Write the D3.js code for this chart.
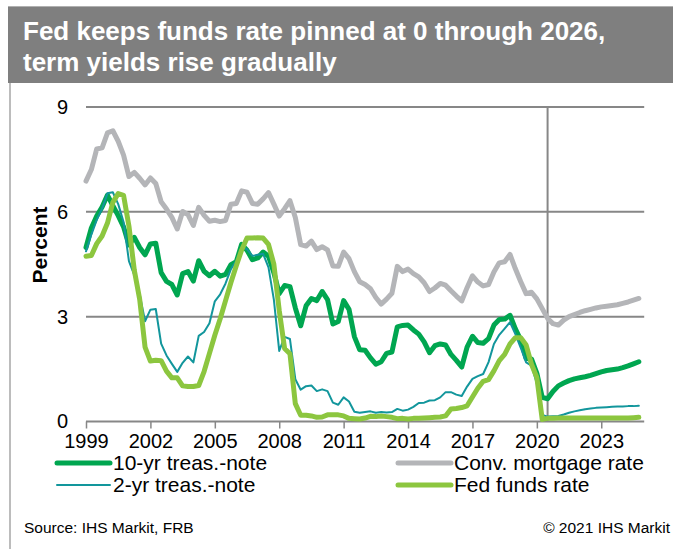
<!DOCTYPE html>
<html><head><meta charset="utf-8">
<script src="https://cdn.jsdelivr.net/npm/d3@7/dist/d3.min.js"></script>
<style>
body{margin:0;background:#fff}
svg{display:block}
text{font-family:Arial,"Liberation Sans",Helvetica,sans-serif}
</style>
</head><body>
<svg id="chart" width="673" height="549"></svg>
<script>
// Quarterly data, 1999Q1 .. 2024Q4
const startYear = 1999;
const tenYear = [
4.98,5.54,5.88,6.14, 6.48,6.18,5.89,5.57, 5.05,5.27,4.98,4.77, 5.08,5.10,4.26,4.01,
3.92,3.62,4.23,4.29, 4.02,4.60,4.30,4.17, 4.30,4.16,4.21,4.49, 4.57,5.07,4.90,4.63,
4.68,4.85,4.73,4.26, 3.66,3.89,3.86,3.25, 2.74,3.31,3.52,3.46, 3.72,3.49,2.79,2.86,
3.46,3.21,2.43,2.05, 2.04,1.82,1.64,1.71, 1.95,1.99,2.71,2.75, 2.76,2.62,2.50,2.28,
1.97,2.17,2.22,2.19, 1.92,1.75,1.56,2.13, 2.44,2.26,2.24,2.37, 2.76,2.92,2.93,3.04,
2.65,2.33,1.80,1.79, 1.38,0.69,0.65,0.86, 1.02,1.10,1.17,1.22, 1.25,1.28,1.32,1.37,
1.42,1.46,1.48,1.50, 1.54,1.59,1.65,1.71];
const mortgage = [
6.88,7.21,7.80,7.83, 8.26,8.32,8.02,7.62, 7.01,7.13,6.96,6.77, 6.97,6.81,6.29,6.08,
5.84,5.51,6.01,5.92, 5.61,6.13,5.90,5.73, 5.76,5.72,5.75,6.22, 6.24,6.60,6.56,6.24,
6.22,6.37,6.55,6.22, 5.88,6.09,6.32,5.84, 5.06,5.02,5.16,4.92, 5.00,4.91,4.45,4.44,
4.85,4.66,4.29,4.00, 3.92,3.80,3.55,3.36, 3.50,3.67,4.44,4.29, 4.36,4.23,4.14,3.97,
3.72,3.82,3.95,3.90, 3.74,3.59,3.45,3.83, 4.17,3.99,3.88,3.92, 4.28,4.54,4.57,4.78,
4.37,4.00,3.66,3.70, 3.51,3.23,2.95,2.80, 2.76,2.90,3.00,3.06, 3.12,3.17,3.21,3.25,
3.28,3.30,3.32,3.34, 3.38,3.42,3.47,3.52];
const twoYear = [
4.87,5.35,5.77,6.09, 6.53,6.56,6.22,5.71, 4.59,4.19,3.64,2.87, 3.20,3.22,2.23,1.89,
1.65,1.42,1.68,1.86, 1.69,2.45,2.56,2.81, 3.44,3.64,3.95,4.36, 4.60,4.99,4.93,4.74,
4.77,4.80,4.41,3.49, 2.02,2.42,2.36,1.21, 0.91,1.01,1.03,0.87, 0.92,0.87,0.54,0.48,
0.69,0.57,0.28,0.25, 0.27,0.29,0.25,0.27, 0.26,0.27,0.36,0.31, 0.34,0.42,0.53,0.54,
0.60,0.61,0.69,0.84, 0.84,0.77,0.73,1.00, 1.22,1.30,1.36,1.70, 2.22,2.48,2.66,2.84,
2.50,2.11,1.69,1.60, 1.08,0.19,0.14,0.15, 0.16,0.20,0.25,0.29, 0.32,0.35,0.37,0.39,
0.40,0.41,0.42,0.43, 0.43,0.44,0.44,0.45];
const fedFunds = [
4.73,4.75,5.09,5.31, 5.68,6.27,6.52,6.47, 5.59,4.33,3.50,2.13, 1.73,1.75,1.74,1.44,
1.25,1.25,1.02,1.00, 1.00,1.03,1.43,1.95, 2.47,2.94,3.46,3.98, 4.46,4.91,5.25,5.25,
5.26,5.25,5.07,4.50, 3.18,2.09,1.94,0.51, 0.18,0.18,0.16,0.12, 0.13,0.19,0.19,0.19,
0.16,0.09,0.08,0.07, 0.10,0.15,0.14,0.16, 0.14,0.12,0.08,0.09, 0.07,0.09,0.09,0.10,
0.11,0.12,0.13,0.16, 0.36,0.37,0.40,0.45, 0.70,0.95,1.15,1.20, 1.45,1.74,1.92,2.22,
2.40,2.40,2.19,1.64, 1.26,0.06,0.09,0.09, 0.10,0.10,0.10,0.10, 0.10,0.10,0.10,0.10,
0.10,0.10,0.10,0.10, 0.10,0.10,0.11,0.12];
const xTickYears = [1999,2002,2005,2008,2011,2014,2017,2020,2023];
const yTicks = [0,3,6,9];
const forecastLine = 2020.5;
const seriesNames = ["10-yr treas.-note","2-yr treas.-note","Conv. mortgage rate","Fed funds rate"];

const svg = d3.select("#chart");
const W = 673, H = 549;
const x = d3.scaleLinear().domain([1999, 2025]).range([86, 644.2]);
const y = d3.scaleLinear().domain([0, 9]).range([421.5, 107]);
const gridCol = "#878787";

// frame
svg.append("line").attr("x1",10).attr("x2",10).attr("y1",83).attr("y2",H)
  .attr("stroke","#a6a6a6").attr("stroke-width",1.5);
svg.append("rect").attr("x",8).attr("y",7).attr("width",W-8).attr("height",76).attr("fill","#7f7f7f");
svg.append("line").attr("x1",8).attr("x2",W).attr("y1",6.5).attr("y2",6.5).attr("stroke","#b0b0b0").attr("stroke-width",1);
const title = svg.append("text").attr("fill","#fff").attr("font-weight","bold").attr("font-size",26);
title.append("tspan").attr("x",23).attr("y",40).text("Fed keeps funds rate pinned at 0 through 2026,");
title.append("tspan").attr("x",23).attr("y",71).text("term yields rise gradually");

// gridlines
svg.append("g").selectAll("line").data(yTicks.filter(d=>d>0)).join("line")
  .attr("x1",x(1999)).attr("x2",x(2025)).attr("y1",d=>y(d)).attr("y2",d=>y(d))
  .attr("stroke",gridCol).attr("stroke-width",2);

// y axis labels
const yAxis = d3.axisLeft(y).tickValues(yTicks).tickSize(0).tickPadding(0).tickFormat(d3.format("d"));
const gy = svg.append("g").attr("transform","translate(68,0)").call(yAxis);
gy.select(".domain").remove();
gy.selectAll("text").attr("font-size",20).attr("fill","#000").attr("font-family","Arial, 'Liberation Sans', sans-serif");

// x axis
const xAxis = d3.axisBottom(x).tickValues(xTickYears).tickSize(7).tickPadding(5).tickFormat(d3.format("d"));
const gx = svg.append("g").attr("transform",`translate(0,${y(0)})`).call(xAxis);
gx.select(".domain").attr("d",`M${x(1999)},0H${x(2025)}`).attr("stroke",gridCol).attr("stroke-width",2);
gx.selectAll(".tick line").attr("stroke",gridCol).attr("stroke-width",1.5);
gx.selectAll("text").attr("font-size",20).attr("fill","#000").attr("font-family","Arial, 'Liberation Sans', sans-serif");

// forecast divider
svg.append("line").attr("x1",x(forecastLine)).attr("x2",x(forecastLine)).attr("y1",y(9)-1).attr("y2",y(0))
  .attr("stroke",gridCol).attr("stroke-width",2);

// y title
svg.append("text").attr("transform","translate(47,245) rotate(-90)").attr("text-anchor","middle")
  .attr("font-weight","bold").attr("font-size",21).attr("fill","#000").text("Percent");

// lines
const t = i => startYear + i/4;
const line = d3.line().x((d,i)=>x(t(i))).y(d=>y(d)).curve(d3.curveLinear);
const series = [
  {v: mortgage, c:"#b4b5b8", w:5},
  {v: tenYear, c:"#00a650", w:5},
  {v: twoYear, c:"#12969c", w:2},
  {v: fedFunds, c:"#8cc63f", w:5}
];
svg.append("g").selectAll("path").data(series).join("path")
  .attr("d",d=>line(d.v)).attr("fill","none").attr("stroke",d=>d.c).attr("stroke-width",d=>d.w)
  .attr("stroke-linejoin","round").attr("stroke-linecap","round");

// legend
const legend = [
  {name: seriesNames[0], c:"#00a650", w:5, x:57, y:463},
  {name: seriesNames[2], c:"#b4b5b8", w:5, x:398, y:463},
  {name: seriesNames[1], c:"#12969c", w:2, x:57, y:485},
  {name: seriesNames[3], c:"#8cc63f", w:5, x:398, y:485}
];
const lg = svg.append("g").selectAll("g").data(legend).join("g").attr("transform",d=>`translate(${d.x},${d.y})`);
lg.append("line").attr("x1",0).attr("x2",53).attr("y1",0).attr("y2",0).attr("stroke",d=>d.c).attr("stroke-width",d=>d.w).attr("stroke-linecap","round");
lg.append("text").attr("x",56).attr("y",0).attr("dy","0.35em").attr("font-size",21).attr("fill","#000").text(d=>d.name);

// source
svg.append("text").attr("x",24).attr("y",533).attr("font-size",15.5).attr("fill","#000").text("Source: IHS Markit, FRB");
svg.append("text").attr("x",670).attr("y",533).attr("text-anchor","end").attr("font-size",15.5).attr("fill","#000").text("© 2021 IHS Markit");
</script>
</body></html>
